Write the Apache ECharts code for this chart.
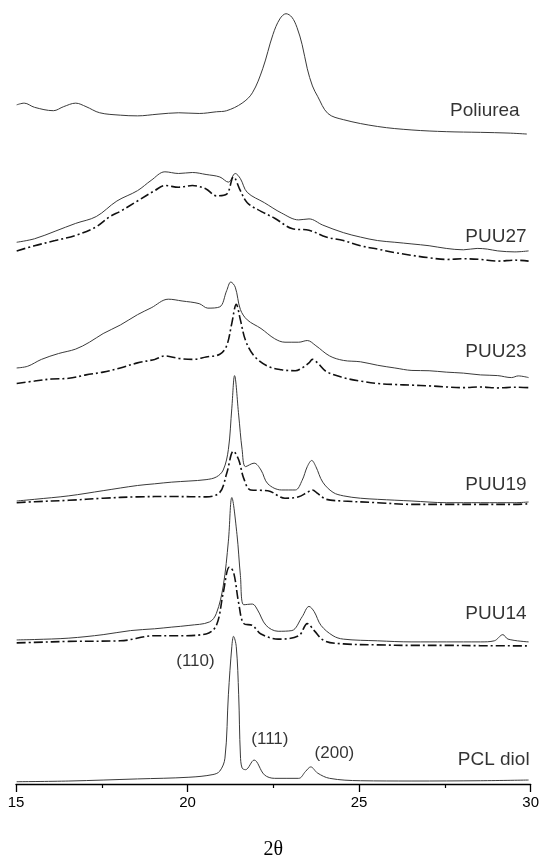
<!DOCTYPE html>
<html><head><meta charset="utf-8">
<script src="https://cdn.jsdelivr.net/npm/echarts@6/dist/echarts.min.js"></script>
<style>html,body{margin:0;padding:0;background:#fff}#c{width:542px;height:865px}</style>
</head><body><div id="c"></div>
<script>
// 2θ positions and stacked intensities (a.u., offset included)
const poliurea = [[15.02,683.5],[15.24,685.2],[15.54,681],[16.09,677.6],[16.39,681.7],[16.74,685.2],[17.04,681.7],[17.44,675.5],[18.04,673.1],[18.54,672.4],[19.14,674.1],[19.74,675.5],[20.34,674.8],[20.84,676.5],[21.14,677.6],[21.59,685.2],[21.89,695.6],[22.19,719.8],[22.49,754.4],[22.69,770],[22.87,775.2],[23.04,771.7],[23.19,761.3],[23.34,744],[23.49,719.8],[23.64,702.5],[23.79,692.1],[24.09,674.8],[24.54,668.6],[25.54,661.7],[26.54,658.2],[27.54,656.5],[28.54,655.8],[29.34,655.1],[29.89,654.1]];
const puu27 = [[15.02,545.2],[15.54,548.7],[16.14,556.3],[16.74,564.2],[17.34,571.1],[17.94,586.7],[18.54,597.1],[18.94,607.5],[19.34,616.1],[19.74,614.4],[20.14,615.4],[20.54,613.4],[20.94,610.9],[21.19,605.7],[21.39,614.4],[21.54,609.2],[21.74,595.4],[22.24,585],[22.74,574.6],[23.24,567.7],[23.54,568.7],[23.94,562.5],[24.54,554.9],[25.04,550.4],[25.54,546.9],[26.04,545.2],[26.54,543.5],[27.04,541.7],[27.54,539],[28.04,537.6],[28.44,539],[28.74,538.3],[29.04,536.5],[29.54,535.5],[29.94,536.5]];
const puu27b = [[15.02,536.5],[15.54,541.7],[16.14,546.9],[16.74,552.1],[17.34,560.8],[17.74,571.1],[18.04,576.3],[18.54,586.7],[19.04,597.1],[19.34,602.3],[19.74,600.6],[20.14,602.3],[20.54,598.8],[20.84,591.9],[21.14,593.6],[21.34,610.9],[21.54,597.1],[21.74,585],[22.14,576.3],[22.54,569.4],[23.04,559],[23.54,557.3],[24.04,550.4],[24.54,546.9],[25.04,541.7],[25.54,538.3],[26.04,534.8],[26.54,532],[27.04,529.6],[27.54,527.9],[28.04,528.6],[28.54,527.9],[29.04,526.2],[29.54,527.2],[29.94,526.2]];
const puu23 = [[15.02,418.7],[15.34,420.4],[15.74,427.3],[16.24,433.2],[16.74,437.7],[17.14,444.6],[17.54,453.3],[18.04,461.9],[18.54,472.3],[18.94,479.2],[19.44,487.9],[19.84,486.1],[20.34,483.4],[20.59,478.9],[20.94,480.2],[21.14,496.5],[21.26,505.2],[21.39,500],[21.54,477.5],[21.74,467.1],[22.14,458.4],[22.54,448.1],[22.84,444.6],[23.24,444.6],[23.49,446.3],[23.74,441.1],[24.14,430.8],[24.54,426.3],[25.04,424.9],[25.54,421.4],[26.04,418.7],[26.54,416.2],[27.04,415.9],[27.54,414.5],[28.04,413.5],[28.54,411.7],[29.04,411],[29.44,409],[29.64,410.7],[29.94,409]];
const puu23b = [[15.02,403.1],[15.54,405.5],[16.04,407.6],[16.54,408.3],[17.04,411.7],[17.54,414.5],[18.04,418.7],[18.54,423.8],[19.04,427.3],[19.34,430.8],[19.74,428.3],[20.14,427.3],[20.54,429.7],[20.94,432.5],[21.14,441.1],[21.29,463.6],[21.42,482.7],[21.54,467.1],[21.69,446.3],[21.94,430.8],[22.34,420.4],[22.74,416.9],[23.14,415.9],[23.34,418.7],[23.54,423.8],[23.64,427.3],[23.79,423.8],[24.04,415.2],[24.54,409],[25.04,405.5],[25.54,403.1],[26.04,402],[26.54,401.4],[27.04,400.7],[27.54,399.6],[28.04,398.9],[28.54,399.6],[29.04,398.6],[29.54,399.3],[29.94,398.9]];
const puu19 = [[15.02,284.8],[15.54,286.5],[16.54,290],[17.54,295.2],[18.54,300.4],[19.04,302.1],[19.54,303.8],[20.04,304.9],[20.54,306.3],[20.84,309],[21.04,316],[21.19,336.7],[21.29,378.2],[21.37,411],[21.49,371.3],[21.59,336.7],[21.69,319.4],[21.94,322.9],[22.14,316],[22.34,302.1],[22.74,295.9],[23.14,295.9],[23.34,305.6],[23.49,319.4],[23.62,325.6],[23.74,319.4],[23.94,303.8],[24.24,293.5],[24.54,290],[25.04,287.6],[25.54,286.5],[26.54,284.8],[27.54,283.1],[28.54,283.1],[29.54,283.1],[29.94,283.8]];
const puu19b = [[15.02,283.1],[15.54,284.1],[16.54,285.5],[17.54,287.6],[18.54,289],[19.54,289.3],[20.54,289],[20.94,293.5],[21.14,312.5],[21.34,335],[21.49,326.3],[21.64,307.3],[21.84,295.9],[22.34,295.2],[22.84,287.6],[23.24,289],[23.49,293.5],[23.64,295.9],[23.79,292.4],[24.04,286.5],[24.54,284.8],[25.54,283.1],[26.54,281.4],[27.54,281.4],[28.54,281.4],[29.54,281.4],[29.94,282]];
const puu14 = [[15.02,145],[15.54,145.4],[16.54,146.8],[17.54,150.3],[18.34,154.4],[19.04,156.2],[19.54,157.9],[20.04,159.6],[20.64,163.1],[20.84,171.7],[21.04,199.4],[21.19,244.4],[21.29,288.3],[21.44,251.3],[21.54,209.8],[21.64,180.4],[21.89,181.1],[22.04,175.2],[22.29,159.6],[22.64,153.7],[23.04,154.4],[23.34,168.3],[23.54,178.7],[23.69,173.5],[23.89,159.6],[24.24,149.2],[24.54,145.8],[25.54,144.1],[26.54,143],[27.54,143],[28.54,143],[28.94,144.1],[29.19,150.3],[29.34,145.8],[29.94,143]];
const puu14b = [[15.02,142],[15.54,142.5],[16.54,143.5],[18.04,144.1],[19.04,149.2],[19.74,149.2],[20.54,151],[20.84,159.6],[21.04,192.5],[21.22,218.4],[21.34,213.3],[21.49,182.1],[21.64,161.4],[21.89,159.6],[22.14,151],[22.64,145.8],[23.24,149.2],[23.49,161.4],[23.69,154.4],[23.99,144.1],[24.54,141],[25.54,140],[26.54,139.5],[27.54,139.5],[28.54,139.2],[29.94,139]];
const pcl = [[15.02,2.3],[16.54,3],[18.54,5.1],[20.04,6.8],[20.74,9.5],[20.94,13],[21.09,26],[21.19,89.8],[21.29,138.2],[21.34,148.6],[21.42,138.2],[21.49,89.8],[21.54,29.2],[21.59,16.1],[21.69,14.4],[21.94,24.1],[22.24,9.2],[22.54,5.7],[23.24,5.7],[23.44,12.7],[23.59,17.2],[23.79,11],[24.14,5.7],[25.04,3.3],[26.54,3],[28.54,3.3],[29.94,4]];
// labels: [2θ, intensity, text]
const sampleLabels = [[29.68,678,'Poliurea'],[29.88,551,'PUU27'],[29.88,435,'PUU23'],[29.88,301,'PUU19'],[29.88,171,'PUU14'],[29.97,24,'PCL diol']];
const planeLabels = [[20.23,123,'(110)'],[22.4,45,'(111)'],[24.28,31,'(200)']];
const xTicks = {min:15, max:30, interval:5};

const solid = {type:'solid', width:1, color:'#3a3a3a'};
const dashed = {type:[9,3,2,3], width:1.6, color:'#111'};
function line(d, st){return {type:'line', data:d, showSymbol:false, symbol:'none', lineStyle:st, smooth:0.35, animation:false, z:2};}
const chart = echarts.init(document.getElementById('c'));
chart.setOption({
  backgroundColor:'#fff',
  animation:false,
  grid:{left:16, right:7, top:0, bottom:76},
  xAxis:{type:'value', min:xTicks.min, max:xTicks.max, interval:xTicks.interval,
    name:'2θ', nameLocation:'middle', nameGap:56,
    nameTextStyle:{fontFamily:'Liberation Serif', fontSize:20, color:'#000'},
    axisLine:{lineStyle:{color:'#000', width:1.3}},
    axisTick:{inside:false, length:8, lineStyle:{color:'#000', width:1.3}},
    minorTick:{show:true, splitNumber:2, length:4, lineStyle:{color:'#000', width:1.2}},
    axisLabel:{fontFamily:'Liberation Sans', fontSize:15, color:'#000', margin:11},
    splitLine:{show:false}},
  yAxis:{type:'value', min:0, max:789, show:false},
  series:[
    line(poliurea, solid), line(puu27, solid), line(puu27b, dashed),
    line(puu23, solid), line(puu23b, dashed), line(puu19, solid), line(puu19b, dashed),
    line(puu14, solid), line(puu14b, dashed), line(pcl, solid),
    {type:'scatter', symbolSize:0, data:sampleLabels, animation:false,
      label:{show:true, position:'inside', align:'right', verticalAlign:'middle', formatter:p=>p.data[2],
        fontFamily:'Liberation Sans', fontSize:19, color:'#000'}},
    {type:'scatter', symbolSize:0, data:planeLabels, animation:false,
      label:{show:true, position:'inside', align:'center', verticalAlign:'middle', formatter:p=>p.data[2],
        fontFamily:'Liberation Sans', fontSize:17, color:'#000'}}
  ]
});
</script></body></html>
